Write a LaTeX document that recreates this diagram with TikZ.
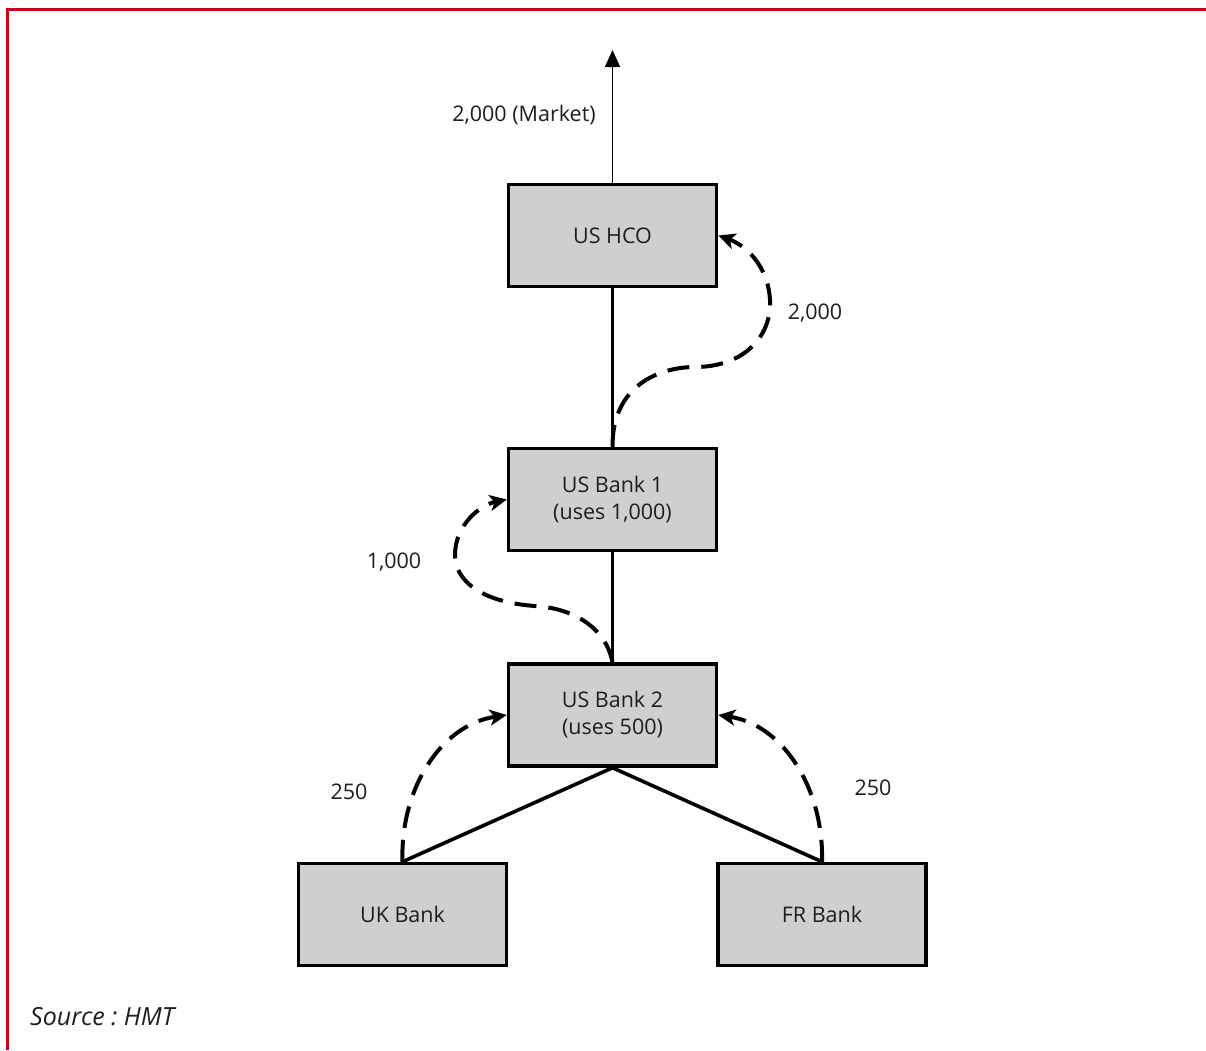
\documentclass[tikz,border=0pt]{standalone}
\usepackage{fontspec}
\setmainfont{Open Sans}
\usetikzlibrary{arrows.meta}
\definecolor{hmtred}{RGB}{200,0,30}
\definecolor{boxgray}{RGB}{208,207,208}
\definecolor{txt}{RGB}{30,30,30}
\begin{document}
\begin{tikzpicture}[x=1pt,y=-1pt,
  bank/.style={draw=black,line width=3.5pt,fill=boxgray,minimum width=208pt,minimum height=102pt,inner sep=0pt,align=center,text=txt,font=\fontsize{21.5}{27}\selectfont},
  lbl/.style={text=txt,font=\fontsize{21.5}{27}\selectfont,inner sep=0pt},
  link/.style={line width=3.6pt},
  flow/.style={line width=4pt,dash pattern=on 22pt off 12pt,-{Stealth[length=17pt,width=16pt,inset=4.5pt]}}]
\useasboundingbox (0,0) rectangle (1206,1050);
\fill[white] (0,0) rectangle (1206,1050);
\draw[hmtred,line width=3pt] (7,1050) -- (7,9.5) -- (1206,9.5);
\node[bank] (hco) at (612.5,235.5) {US HCO};
\node[bank] (b1) at (612.5,499.5) {US Bank 1\\(uses 1,000)};
\node[bank] (b2) at (612.5,715) {US Bank 2\\(uses 500)};
\node[bank] (uk) at (402.5,914.5) {UK Bank};
\node[bank] (fr) at (822,914.5) {FR Bank};
\coordinate (mkt) at (612.5,50);
\draw[line width=1.6pt,-{Triangle[length=17pt,width=15pt]}] (hco.north) -- (mkt);
\node[lbl] (lm) at (524,115) {2,000 (Market)};
\draw[link] (hco.south) -- (b1.north);
\draw[link] (b1.south) -- (b2.north);
\draw[link] (b2.south) -- (uk.north);
\draw[link] (b2.south) -- (fr.north);
\draw[flow] (b1.north) .. controls (612,385) and (660,367) .. (695,367) .. controls (745,367) and (772,335) .. (770,300) .. controls (768,265) and (745,245) .. (hco.east);
\draw[flow] (b2.north) .. controls (605,625) and (570,608) .. (535,606) .. controls (480,602) and (455,580) .. (455,555) .. controls (455,525) and (480,505) .. (b1.west);
\draw[flow] (uk.north) .. controls (400,790) and (440,725) .. (b2.west);
\draw[flow] (fr.north) .. controls (824,790) and (784,725) .. (b2.east);
\node[lbl] (l2000) at (815,313) {2,000};
\node[lbl] (l1000) at (394,562) {1,000};
\node[lbl] (l250a) at (349,792) {250};
\node[lbl] (l250b) at (873,788) {250};
\node[lbl,anchor=west,font=\fontsize{25}{30}\selectfont] (src) at (30,1017) {\itshape Source\hspace{0.25em}:\ HMT};
\end{tikzpicture}
\end{document}
